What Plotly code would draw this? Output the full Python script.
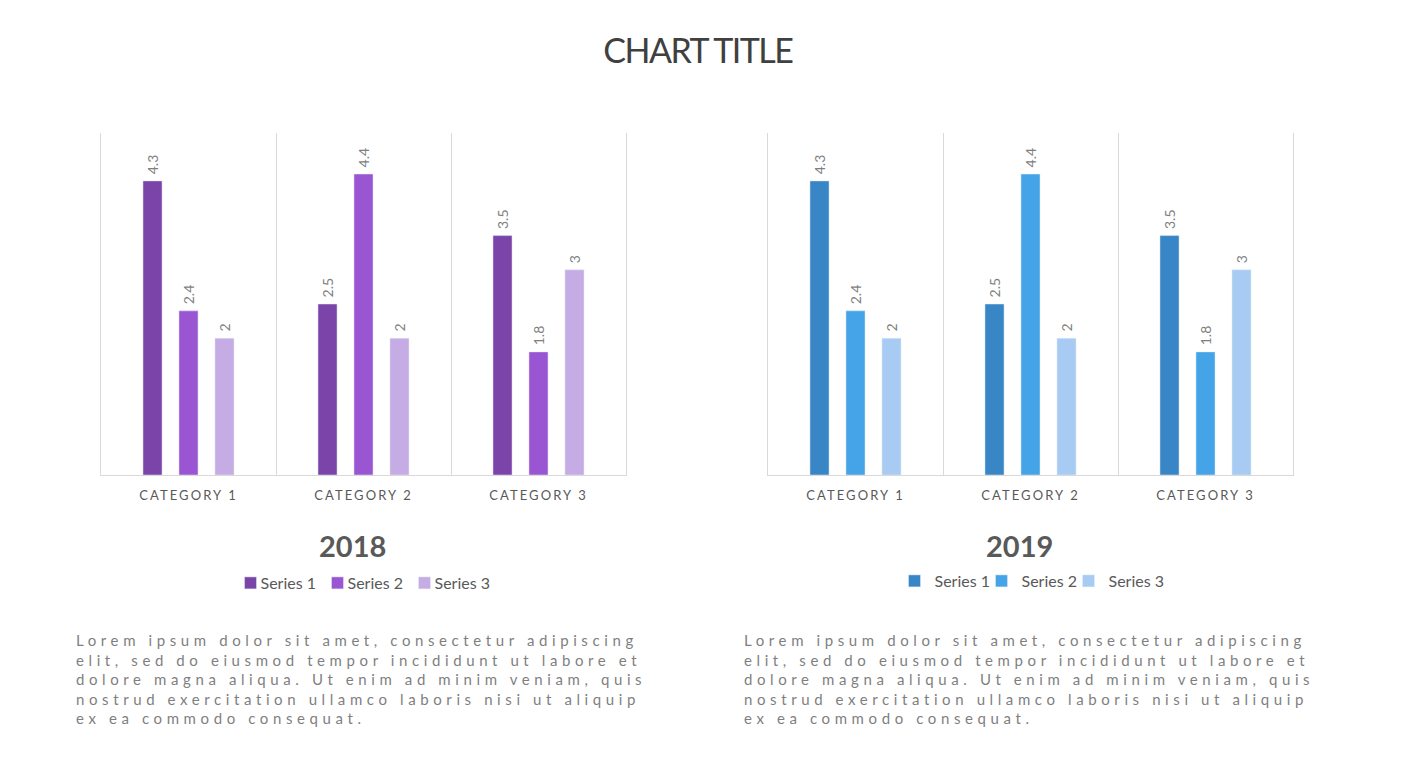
import plotly.graph_objects as go

categories = ["CATEGORY 1", "CATEGORY 2", "CATEGORY 3"]
series_names = ["Series 1", "Series 2", "Series 3"]
values_2018 = [[4.3, 2.5, 3.5], [2.4, 4.4, 1.8], [2, 2, 3]]
values_2019 = [[4.3, 2.5, 3.5], [2.4, 4.4, 1.8], [2, 2, 3]]
colors_2018 = ["#7B44A9", "#9A55D3", "#C5ACE4"]
colors_2019 = ["#3886C6", "#45A3E8", "#A8CBF3"]
years = ["2018", "2019"]
lorem = ("Lorem ipsum dolor sit amet, consectetur adipiscing<br>"
         "elit, sed do eiusmod tempor incididunt ut labore et<br>"
         "dolore magna aliqua. Ut enim ad minim veniam, quis<br>"
         "nostrud exercitation ullamco laboris nisi ut aliquip<br>"
         "ex ea commodo consequat.")

W, H = 1401, 778
FONT = "Lato"

fig = go.Figure()

panels = [
    (values_2018, colors_2018, "x", "y", "legend"),
    (values_2019, colors_2019, "x2", "y2", "legend2"),
]
for vals, cols, xa, ya, lg in panels:
    for name, v, c in zip(series_names, vals, cols):
        fig.add_trace(go.Bar(
            x=categories, y=v, name=name, marker_color=c,
            xaxis=xa, yaxis=ya, legend=lg,
            text=["\u00a0" + f"{t:g}" for t in v], textposition="outside",
            textangle=-90, constraintext="none", cliponaxis=False,
            textfont=dict(family=FONT, size=14, color="#7f7f7f"),
        ))

def px_x(p):
    return p / W

def px_y(p):
    return 1 - p / H

xdom1 = [px_x(101), px_x(626)]
xdom2 = [px_x(768), px_x(1293)]
ydom = [px_y(475), px_y(133)]

xaxis_common = dict(
    type="category", tickson="boundaries", showgrid=True, gridcolor="#d9d9d9",
    gridwidth=1, showline=True, linecolor="#d9d9d9", linewidth=1, ticks="",
    tickfont=dict(family=FONT, size=13, color="#595959"), zeroline=False,
    fixedrange=True, ticklabelstandoff=8,
)
yaxis_common = dict(range=[0, 5], visible=True, showticklabels=False, ticks="",
                    showline=True, mirror=True, linecolor="#d9d9d9", linewidth=1,
                    showgrid=False, zeroline=False, domain=ydom, fixedrange=True)

legend_common = dict(orientation="h", xanchor="center", yanchor="middle",
                     font=dict(family=FONT, size=16, color="#595959"),
                     itemwidth=30, tracegroupgap=0, entrywidthmode="pixels")

fig.update_layout(
    width=W, height=H,
    margin=dict(l=0, r=0, t=0, b=0),
    paper_bgcolor="white", plot_bgcolor="white",
    barmode="group", bargap=0.383, bargroupgap=0.47,
    font=dict(family=FONT, color="#595959"),
    xaxis=dict(domain=xdom1, anchor="y", **xaxis_common),
    yaxis=dict(anchor="x", **yaxis_common),
    xaxis2=dict(domain=xdom2, anchor="y2", **xaxis_common),
    yaxis2=dict(anchor="x2", **yaxis_common),
    legend=dict(x=px_x(361), y=px_y(583), entrywidth=42, **legend_common),
    legend2=dict(x=px_x(1025), y=px_y(581), entrywidth=42, **legend_common),
    showlegend=True,
)

annotations = [
    dict(text="CHART TITLE", x=0.498, y=px_y(50), xref="paper", yref="paper",
         showarrow=False, xanchor="center", yanchor="middle",
         font=dict(family=FONT, size=34, color="#404040")),
    dict(text="<b>%s</b>" % years[0], x=px_x(353), y=px_y(545), xref="paper",
         yref="paper", showarrow=False, xanchor="center", yanchor="middle",
         font=dict(family=FONT, size=29, color="#595959")),
    dict(text="<b>%s</b>" % years[1], x=px_x(1020), y=px_y(545), xref="paper",
         yref="paper", showarrow=False, xanchor="center", yanchor="middle",
         font=dict(family=FONT, size=29, color="#595959")),
]
for xp in (74, 742):
    annotations.append(dict(
        text=lorem, x=px_x(xp), y=px_y(629), xref="paper", yref="paper",
        showarrow=False, xanchor="left", yanchor="top", align="left",
        font=dict(family=FONT, size=15, color="#7f7f7f"),
    ))
fig.update_layout(annotations=annotations)

post = """
var s = document.createElement('style');
s.textContent = 'body{margin:0 !important;}' +
  '.xtick text, .x2tick text{letter-spacing:2.1px;}' +
  '.scrollbox{clip-path:none !important;}' +
  'g.annotation[data-index="0"] text{letter-spacing:-1.5px;}' +
  'g.annotation[data-index="3"] text, g.annotation[data-index="4"] text{letter-spacing:4.6px;}';
document.head.appendChild(s);
function tightenLegend(){
  document.querySelectorAll('text.legendtext').forEach(function(t){
    var g = t.parentNode;
    var sym = g.querySelector('.legendpoints path') || g.querySelector('.legendsymbols');
    if(!sym) return;
    var sr = sym.getBoundingClientRect();
    var tr = t.getBoundingClientRect();
    var dx = (sr.right + 4) - tr.left;
    var x = parseFloat(t.getAttribute('x') || '0');
    t.setAttribute('x', String(x + dx));
  });
}
tightenLegend();
"""

fig.write_html("out.html", config={"displayModeBar": False}, post_script=post)
